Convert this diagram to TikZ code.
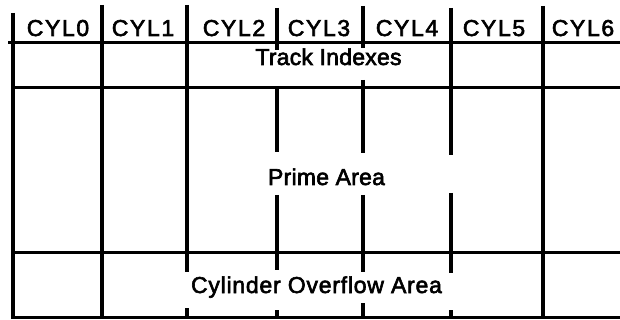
\documentclass[tikz,border=0pt]{standalone}
\usepackage{fontspec}
\setmainfont{Liberation Sans}
\newfontfamily\labelfont{Liberation Sans}[FakeBold=2.6]
\begin{document}
\begin{tikzpicture}[x=1pt,y=-1pt,
  wall/.style={line width=4pt},
  rule/.style={line width=3pt},
  lbl/.style={inner sep=0pt,anchor=base,font=\labelfont\fontsize{23}{25}\selectfont\addfontfeature{LetterSpace=1}},
  cyl/.style={lbl,font=\labelfont\fontsize{23}{25}\selectfont\addfontfeature{LetterSpace=7}}]
\useasboundingbox (0,0) rectangle (620,320);

% horizontal rules
\draw[rule] (8,42.5) -- (620,42.5);
\draw[rule] (12,88) -- (620,88);
\draw[rule] (12,252) -- (620,252);
\draw[line width=2.6pt] (12,317.5) -- (620,317.5);

% full-height walls
\draw[wall] (13,13) -- (13,318.5);
\draw[wall] (102,5) -- (102,318.5);
\draw[wall] (543,6) -- (543,318.5);

% walls broken around the area labels
\draw[wall] (187,5) -- (187,272) (187,308) -- (187,318.5);
\draw[wall] (277,8) -- (277,50) (277,88) -- (277,152)
            (277,195) -- (277,270) (277,310) -- (277,318.5);
\draw[wall] (363,6) -- (363,48) (363,80) -- (363,153)
            (363,195) -- (363,272) (363,303) -- (363,318.5);
\draw[wall] (451,8) -- (451,155) (451,193) -- (451,273) (451,310) -- (451,318.5);

% cylinder headings
\node[cyl] (c0) at (58,36) {CYL0};
\node[cyl] (c1) at (143,36) {CYL1};
\node[cyl] (c2) at (234,36) {CYL2};
\node[cyl] (c3) at (319,36) {CYL3};
\node[cyl] (c4) at (407,36) {CYL4};
\node[cyl] (c5) at (494,36) {CYL5};
\node[cyl] (c6) at (583,36) {CYL6};

% area labels
\node[lbl] (ti) at (328.5,65) {Track Indexes};
\node[lbl] (pa) at (326.5,185) {Prime Area};
\node[lbl,font=\labelfont\fontsize{23}{25}\selectfont\addfontfeature{LetterSpace=3.3}] (co) at (316.5,293) {Cylinder Overflow Area};
\end{tikzpicture}
\end{document}
